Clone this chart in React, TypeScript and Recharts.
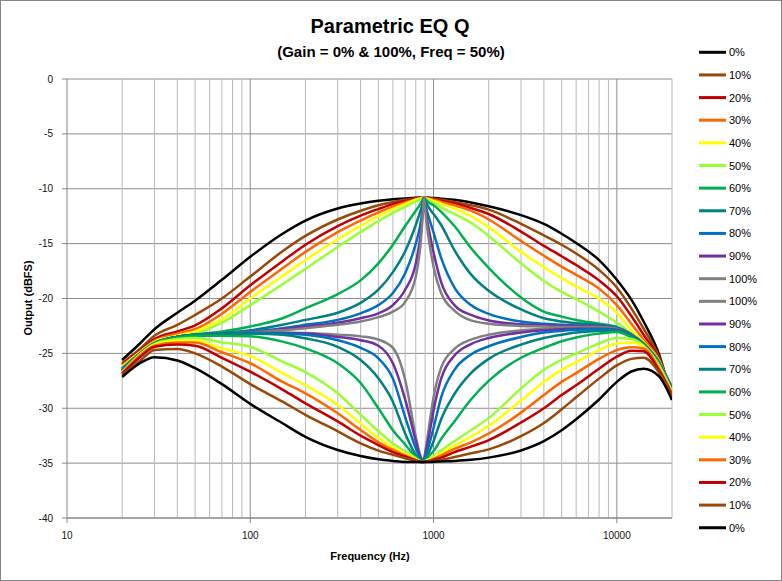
import { LineChart, Line, XAxis, YAxis, CartesianGrid, ReferenceLine } from 'recharts';

// frequency points (Hz) the curves were read at
const FREQ = [20, 25, 30, 40, 50, 70, 100, 150, 200, 300, 400, 500, 600, 700, 800, 840, 860, 873, 886, 900, 920, 950, 1000, 1100, 1300, 1600, 2000, 3000, 4000, 5000, 6000, 8000, 10000, 12000, 14000, 17000, 20000];

// Gain = 100% (boost), Q = 0%..100%
const up0 = [-25.6, -24.1, -22.8, -21.3, -20.2, -18.3, -16.2, -14.1, -12.9, -11.8, -11.35, -11.1, -10.95, -10.88, -10.82, -10.8, -10.8, -10.8, -10.8, -10.8, -10.8, -10.82, -10.85, -10.9, -11.0, -11.25, -11.6, -12.4, -13.2, -14.1, -14.95, -16.5, -18.3, -20.1, -22.1, -25.1, -29.2];
const up10 = [-25.9, -24.6, -23.4, -22.4, -21.5, -20.0, -18.0, -15.7, -14.3, -12.8, -12.0, -11.5, -11.2, -11.0, -10.86, -10.82, -10.81, -10.8, -10.8, -10.81, -10.82, -10.85, -10.9, -11.0, -11.2, -11.5, -11.9, -13.2, -14.25, -15.1, -15.9, -17.4, -19.0, -20.9, -22.75, -25.35, -28.9];
const up20 = [-26.0, -24.75, -23.7, -23.0, -22.45, -20.9, -18.8, -16.6, -15.1, -13.4, -12.45, -11.85, -11.4, -11.12, -10.9, -10.84, -10.82, -10.8, -10.8, -10.81, -10.84, -10.88, -10.95, -11.1, -11.35, -11.75, -12.3, -13.9, -15.2, -16.15, -16.95, -18.35, -19.8, -21.6, -23.3, -25.5, -28.7];
const up30 = [-26.1, -24.85, -23.85, -23.2, -22.8, -21.4, -19.4, -17.25, -15.75, -13.95, -12.9, -12.15, -11.6, -11.25, -10.98, -10.86, -10.83, -10.8, -10.8, -10.81, -10.86, -10.92, -11.0, -11.2, -11.5, -12.0, -12.8, -14.75, -16.1, -17.1, -17.85, -19.1, -20.6, -22.3, -23.75, -25.6, -28.6];
const up40 = [-26.2, -24.9, -23.95, -23.4, -23.0, -21.9, -20.0, -17.95, -16.5, -14.6, -13.4, -12.5, -11.85, -11.38, -11.0, -10.9, -10.85, -10.81, -10.8, -10.81, -10.9, -10.98, -11.1, -11.35, -11.8, -12.5, -13.5, -15.75, -17.15, -18.15, -18.9, -20.0, -21.3, -22.9, -24.0, -25.7, -28.5];
const up50 = [-26.3, -24.95, -24.0, -23.5, -23.2, -22.2, -20.6, -18.7, -17.3, -15.3, -13.95, -12.95, -12.2, -11.65, -11.15, -10.98, -10.9, -10.85, -10.8, -10.84, -10.95, -11.08, -11.3, -11.7, -12.3, -13.1, -14.3, -16.8, -18.4, -19.4, -20.05, -21.2, -22.2, -23.2, -24.1, -25.75, -28.4];
const up60 = [-26.35, -25.0, -24.05, -23.5, -23.3, -23.0, -22.55, -21.8, -20.9, -19.6, -18.35, -16.8, -15.1, -13.4, -12.0, -11.5, -11.2, -11.0, -10.8, -10.95, -11.1, -11.3, -11.5, -12.1, -13.4, -15.4, -17.2, -19.9, -21.2, -21.65, -21.95, -22.3, -22.6, -23.25, -24.1, -25.8, -28.3];
const up70 = [-26.4, -25.0, -24.1, -23.5, -23.3, -23.15, -22.9, -22.4, -21.95, -21.3, -20.4, -19.2, -17.6, -15.7, -13.3, -12.25, -11.7, -11.3, -10.8, -11.1, -11.4, -11.8, -12.3, -13.3, -15.6, -17.8, -19.3, -21.0, -21.8, -22.1, -22.25, -22.4, -22.65, -23.3, -24.15, -25.85, -28.2];
const up80 = [-26.45, -25.0, -24.1, -23.5, -23.3, -23.2, -23.0, -22.7, -22.4, -21.95, -21.35, -20.6, -19.5, -17.7, -15.0, -13.6, -12.6, -11.7, -10.8, -11.3, -12.0, -12.8, -14.0, -16.3, -19.0, -20.6, -21.4, -22.1, -22.3, -22.4, -22.45, -22.5, -22.7, -23.35, -24.2, -25.9, -28.2];
const up90 = [-26.5, -25.05, -24.1, -23.5, -23.3, -23.2, -23.1, -22.8, -22.55, -22.2, -21.8, -21.35, -20.6, -19.2, -16.8, -14.8, -13.4, -12.0, -10.8, -11.5, -12.7, -14.0, -15.8, -18.5, -20.6, -21.5, -22.0, -22.35, -22.45, -22.5, -22.5, -22.55, -22.75, -23.4, -24.2, -25.9, -28.15];
const up100 = [-26.5, -25.05, -24.15, -23.5, -23.3, -23.2, -23.1, -22.9, -22.7, -22.4, -22.1, -21.7, -21.2, -20.3, -18.0, -15.8, -14.0, -12.4, -10.8, -11.8, -13.4, -15.0, -17.1, -19.5, -21.1, -22.0, -22.3, -22.5, -22.55, -22.6, -22.6, -22.6, -22.75, -23.45, -24.25, -25.9, -28.1];

// Gain = 0% (cut), Q = 100%..0%
const down100 = [-26.55, -25.05, -24.1, -23.5, -23.3, -23.15, -23.15, -23.1, -23.15, -23.3, -23.45, -23.75, -24.5, -27.4, -32.6, -34.1, -34.6, -34.9, -34.6, -34.0, -33.0, -31.4, -29.0, -26.3, -24.6, -23.75, -23.3, -22.9, -22.75, -22.7, -22.65, -22.65, -22.8, -23.45, -24.25, -25.95, -28.1];
const down90 = [-26.55, -25.05, -24.1, -23.5, -23.3, -23.2, -23.15, -23.15, -23.2, -23.5, -23.8, -24.3, -25.9, -29.2, -33.0, -34.3, -34.7, -34.9, -34.7, -34.3, -33.5, -32.3, -30.2, -27.3, -25.2, -24.15, -23.6, -23.1, -22.9, -22.8, -22.75, -22.75, -22.85, -23.45, -24.25, -25.95, -28.15];
const down80 = [-26.6, -25.05, -24.1, -23.5, -23.3, -23.2, -23.15, -23.2, -23.3, -23.8, -24.5, -25.45, -27.3, -30.8, -33.65, -34.5, -34.75, -34.9, -34.75, -34.5, -34.0, -33.2, -31.8, -29.0, -26.5, -25.1, -24.35, -23.5, -23.1, -22.95, -22.85, -22.8, -22.9, -23.5, -24.25, -26.0, -28.2];
const down70 = [-26.6, -25.05, -24.1, -23.5, -23.3, -23.2, -23.2, -23.3, -23.63, -24.4, -25.6, -27.27, -29.4, -32.3, -34.25, -34.65, -34.8, -34.9, -34.8, -34.65, -34.4, -33.9, -33.0, -31.0, -28.7, -26.8, -25.5, -24.2, -23.6, -23.3, -23.1, -22.95, -22.95, -23.5, -24.3, -26.0, -28.3];
const down60 = [-26.65, -25.05, -24.1, -23.55, -23.4, -23.4, -23.45, -23.93, -24.54, -25.9, -27.7, -30.0, -32.0, -33.3, -34.45, -34.75, -34.85, -34.9, -34.85, -34.75, -34.6, -34.3, -33.9, -32.8, -31.2, -29.2, -27.5, -25.4, -24.5, -23.9, -23.55, -23.2, -23.05, -23.55, -24.3, -26.05, -28.35];
const down50 = [-26.7, -25.1, -24.15, -23.7, -23.6, -24.0, -24.4, -25.75, -26.7, -28.64, -30.6, -32.1, -33.2, -33.95, -34.55, -34.8, -34.87, -34.9, -34.88, -34.84, -34.72, -34.6, -34.4, -33.85, -33.0, -32.0, -30.9, -28.2, -26.5, -25.6, -25.0, -24.1, -23.6, -23.7, -24.3, -26.1, -28.45];
const down40 = [-26.75, -25.15, -24.2, -23.85, -23.85, -24.55, -25.24, -26.8, -27.9, -29.7, -31.4, -32.7, -33.56, -34.16, -34.65, -34.84, -34.88, -34.9, -34.9, -34.86, -34.78, -34.68, -34.5, -34.1, -33.4, -32.6, -31.6, -29.3, -27.6, -26.5, -25.8, -24.7, -24.1, -24.0, -24.4, -26.3, -28.55];
const down30 = [-26.8, -25.2, -24.3, -24.0, -24.0, -24.9, -25.9, -27.6, -28.64, -30.46, -31.98, -33.1, -33.8, -34.3, -34.7, -34.86, -34.9, -34.9, -34.9, -34.87, -34.82, -34.75, -34.6, -34.3, -33.7, -33.1, -32.3, -30.4, -28.8, -27.6, -26.8, -25.5, -24.7, -24.45, -24.55, -26.4, -28.65];
const down20 = [-26.85, -25.35, -24.4, -24.2, -24.3, -25.4, -26.67, -28.3, -29.55, -31.2, -32.5, -33.35, -34.0, -34.4, -34.75, -34.88, -34.9, -34.9, -34.9, -34.88, -34.85, -34.8, -34.7, -34.5, -34.0, -33.5, -32.9, -31.3, -30.0, -28.8, -27.9, -26.4, -25.3, -24.75, -24.8, -26.55, -28.8];
const down10 = [-26.95, -25.7, -24.7, -24.6, -25.0, -26.2, -27.8, -29.4, -30.6, -32.1, -33.2, -33.86, -34.25, -34.56, -34.8, -34.9, -34.9, -34.9, -34.9, -34.9, -34.88, -34.85, -34.8, -34.7, -34.45, -34.1, -33.75, -32.55, -31.35, -30.1, -29.0, -27.3, -26.1, -25.5, -25.4, -26.75, -28.95];
const down0 = [-27.15, -25.9, -25.35, -25.65, -26.35, -27.8, -29.6, -31.37, -32.6, -33.8, -34.35, -34.65, -34.8, -34.9, -34.9, -34.9, -34.9, -34.9, -34.9, -34.9, -34.9, -34.9, -34.88, -34.85, -34.8, -34.7, -34.5, -33.85, -33.0, -32.0, -31.0, -29.2, -27.6, -26.65, -26.4, -27.1, -29.25];

const Y_TICKS = [0, -5, -10, -15, -20, -25, -30, -35, -40];
const X_TICKS = [10, 100, 1000, 10000];
const MINOR_LINES = [20, 30, 40, 50, 60, 70, 80, 90, 200, 300, 400, 500, 600, 700, 800, 900, 2000, 3000, 4000, 5000, 6000, 7000, 8000, 9000, 20000];
const MAJOR_LINES = [100, 1000, 10000];

const SERIES = [
  { name: '0%', color: '#000000', values: up0 },
  { name: '10%', color: '#984807', values: up10 },
  { name: '20%', color: '#C00000', values: up20 },
  { name: '30%', color: '#FF6600', values: up30 },
  { name: '40%', color: '#FFFF00', values: up40 },
  { name: '50%', color: '#99FF33', values: up50 },
  { name: '60%', color: '#00B050', values: up60 },
  { name: '70%', color: '#008080', values: up70 },
  { name: '80%', color: '#0070C0', values: up80 },
  { name: '90%', color: '#7030A0', values: up90 },
  { name: '100%', color: '#808080', values: up100 },
  { name: '100%', color: '#808080', values: down100 },
  { name: '90%', color: '#7030A0', values: down90 },
  { name: '80%', color: '#0070C0', values: down80 },
  { name: '70%', color: '#008080', values: down70 },
  { name: '60%', color: '#00B050', values: down60 },
  { name: '50%', color: '#99FF33', values: down50 },
  { name: '40%', color: '#FFFF00', values: down40 },
  { name: '30%', color: '#FF6600', values: down30 },
  { name: '20%', color: '#C00000', values: down20 },
  { name: '10%', color: '#984807', values: down10 },
  { name: '0%', color: '#000000', values: down0 },
];

const chartData = FREQ.map((f, i) => {
  const row: Record<string, number> = { f };
  SERIES.forEach((s, k) => {
    row[`s${k}`] = s.values[i];
  });
  return row;
});

const FONT = '"Liberation Sans", Arial, sans-serif';
const AXIS_GREY = '#868686';

export default function App() {
  return (
    <div style={{ position: 'absolute', left: 0, top: 0, width: 782, height: 581, background: '#fff', fontFamily: FONT }}>
      <LineChart
        width={782}
        height={581}
        data={chartData}
        margin={{ top: 79, right: 110, bottom: 0, left: 0 }}
        style={{ fontFamily: FONT }}
      >
        <CartesianGrid vertical={false} stroke="#8C8C8C" strokeWidth={1} />
        {MINOR_LINES.map((f) => (
          <ReferenceLine key={`mn-${f}`} x={f} stroke="#B8B8B8" strokeWidth={1} />
        ))}
        {MAJOR_LINES.map((f) => (
          <ReferenceLine key={`mj-${f}`} x={f} stroke="#8C8C8C" strokeWidth={1} />
        ))}
        <XAxis
          dataKey="f"
          type="number"
          scale="log"
          domain={[10, 20000]}
          ticks={X_TICKS}
          allowDataOverflow
          height={63}
          tickSize={5}
          tickMargin={9}
          tick={{ fill: '#111', fontSize: 10 }}
          tickLine={{ stroke: AXIS_GREY }}
          axisLine={{ stroke: AXIS_GREY }}
        />
        <YAxis
          type="number"
          domain={[-40, 0]}
          ticks={Y_TICKS}
          width={67}
          tickSize={5}
          tickMargin={9}
          tick={{ fill: '#111', fontSize: 10 }}
          tickLine={{ stroke: AXIS_GREY }}
          axisLine={{ stroke: AXIS_GREY }}
        />
        {SERIES.map((s, k) => (
          <Line
            key={`s${k}`}
            dataKey={`s${k}`}
            type="monotone"
            stroke={s.color}
            strokeWidth={2.5}
            dot={false}
            activeDot={false}
            isAnimationActive={false}
          />
        ))}
      </LineChart>

      {/* titles, axis titles and legend */}
      <svg
        width={782}
        height={581}
        style={{ position: 'absolute', left: 0, top: 0, pointerEvents: 'none', fontFamily: FONT }}
      >
        <rect x={0.5} y={0.5} width={781} height={580} fill="none" stroke={AXIS_GREY} />
        <text x={390} y={33} textAnchor="middle" fontSize={20} fontWeight="bold" fill="#000">
          Parametric EQ Q
        </text>
        <text x={391} y={57} textAnchor="middle" fontSize={15} fontWeight="bold" fill="#000">
          (Gain = 0% &amp; 100%, Freq = 50%)
        </text>
        <text x={370} y={560} textAnchor="middle" fontSize={11} fontWeight="bold" fill="#000">
          Frequency (Hz)
        </text>
        <text transform="translate(32,298) rotate(-90)" textAnchor="middle" fontSize={11} fontWeight="bold" fill="#000">
          Output (dBFS)
        </text>
        {SERIES.map((s, k) => {
          const y = 52.3 + k * 22.64;
          return (
            <g key={`lg-${k}`}>
              <line x1={699} y1={y} x2={726} y2={y} stroke={s.color} strokeWidth={3} />
              <text x={729} y={y + 4} fontSize={11} fill="#000">
                {s.name}
              </text>
            </g>
          );
        })}
      </svg>
    </div>
  );
}
